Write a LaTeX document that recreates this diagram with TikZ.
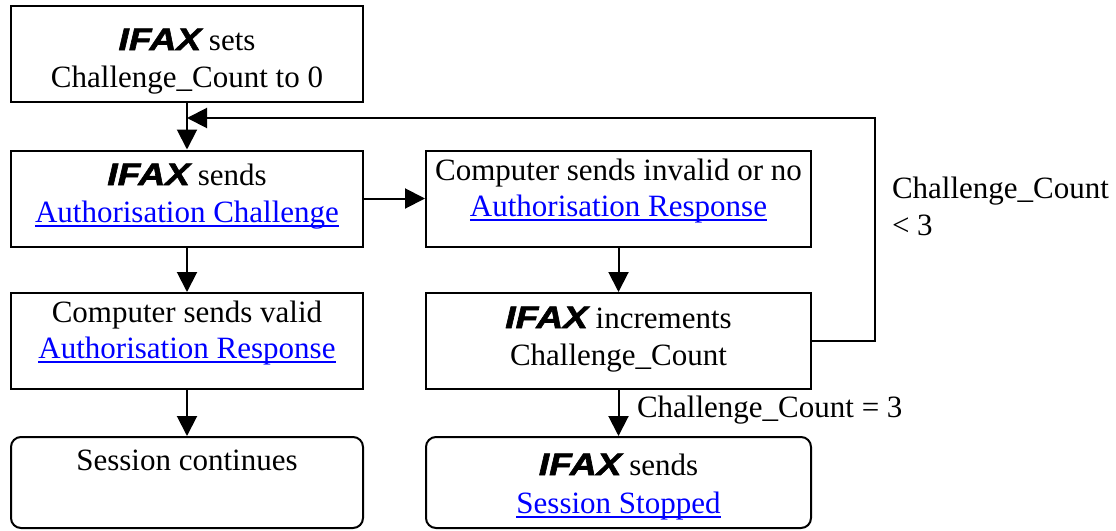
\documentclass[tikz,border=0pt]{standalone}
\usepackage{fontspec}
\setmainfont{Liberation Serif}
\newfontfamily\ifaxfont{Liberation Sans}[FakeStretch=1.2,FakeBold=2]
\usetikzlibrary{arrows.meta}
\newcommand\ifaxword{{\ifaxfont\bfseries\itshape IFAX}}
\newcommand\lnk[1]{{\color{blue}\setbox0\hbox{#1}\rlap{\rule[-5pt]{\wd0}{2pt}}\box0}}
\begin{document}
\begin{tikzpicture}[x=1pt,y=-1pt,line width=2pt,
  every node/.style={font=\fontsize{31}{37}\selectfont},
  boxl/.style={draw,line width=2pt,minimum width=352pt,minimum height=96pt,inner sep=0pt},
  boxr/.style={draw,line width=2pt,minimum width=385pt,minimum height=96pt,inner sep=0pt},
  endl/.style={boxl,minimum height=91pt,rounded corners=10pt},
  endr/.style={boxr,minimum height=91pt,rounded corners=10pt},
  txt/.style={anchor=base,inner sep=0pt},
  lbl/.style={anchor=base west,inner sep=0pt},
  arr/.style={-{Triangle[width=20pt,length=20pt]},line width=2pt}]
\useasboundingbox (0,0) rectangle (1116,530);
\node[boxl] (b1) at (187,54) {};
\node[boxl] (b2) at (187,198.5) {};
\node[boxr] (b3) at (618.5,198.5) {};
\node[boxl] (b4) at (187,341) {};
\node[boxr] (b5) at (618.5,341) {};
\node[endl] (b6) at (187,482.5) {};
\node[endr] (b7) at (618.5,482.5) {};
% texts
\node[txt] (t1a) at (187,50) {\ifaxword{} sets};
\node[txt] (t1b) at (187,87) {Challenge\_Count to 0};
\node[txt] (t2a) at (187,185) {\ifaxword{} sends};
\node[txt] (t2b) at (187,222) {\lnk{Authorisation Challenge}};
\node[txt] (t3a) at (618.5,180) {Computer sends invalid or no};
\node[txt] (t3b) at (618.5,216) {\lnk{Authorisation Response}};
\node[txt] (t4a) at (187,322) {Computer sends valid};
\node[txt] (t4b) at (187,358) {\lnk{Authorisation Response}};
\node[txt] (t5a) at (618.5,328) {\ifaxword{} increments};
\node[txt] (t5b) at (618.5,365) {Challenge\_Count};
\node[txt] (t6a) at (187,470) {Session continues};
\node[txt] (t7a) at (618.5,475) {\ifaxword{} sends};
\node[txt] (t7b) at (618.5,513) {\lnk{Session Stopped}};
% labels
\node[lbl] (l1) at (636,417) {Challenge\_Count = 3};
\node[lbl] (l2a) at (891,198) {Challenge\_Count};
\node[lbl] (l2b) at (891,235) {< 3};
% connectors
\coordinate (merge) at (187,118);
\draw[arr] (b1.south) -- (b2.north);
\draw[arr] (b2.east) -- (b3.west);
\draw[arr] (b2.south) -- (b4.north);
\draw[arr] (b4.south) -- (b6.north);
\draw[arr] (b3.south) -- (b5.north);
\draw[arr] (b5.south) -- (b7.north);
\draw[arr] (b5.east) -- ++(63,0) |- (merge);
\end{tikzpicture}
\end{document}
